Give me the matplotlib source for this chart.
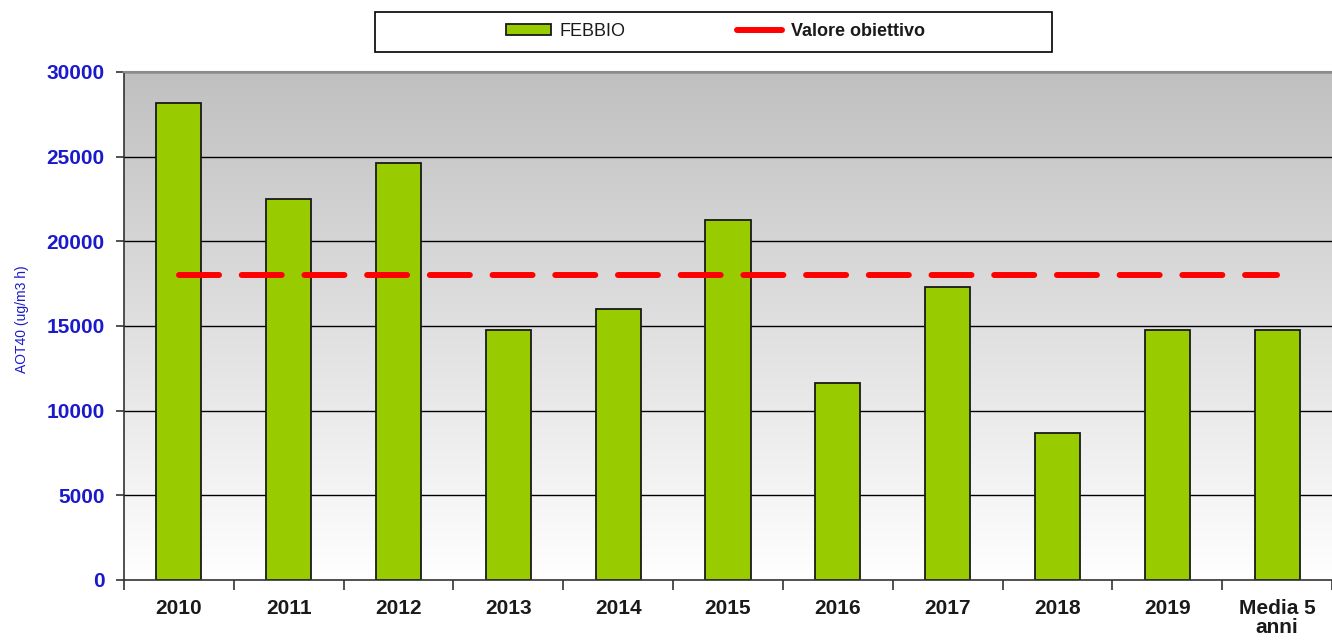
import numpy as np
import matplotlib
matplotlib.use("Agg")
import matplotlib.pyplot as plt
from matplotlib.colors import LinearSegmentedColormap
from matplotlib.patches import Rectangle

plt.rcParams['font.family'] = ['Liberation Sans', 'DejaVu Sans']

# -------------------------------
# DATA
# -------------------------------
categories = ["2010", "2011", "2012", "2013", "2014", "2015", "2016",
              "2017", "2018", "2019", "Media 5\nanni"]
febbio = [28150, 22500, 24600, 14750, 16000, 21250, 11650, 17300, 8700, 14750, 14750]
valore_obiettivo = [18000] * len(categories)
y_ticks = [0, 5000, 10000, 15000, 20000, 25000, 30000]

# -------------------------------
# FIGURE
# -------------------------------
fig = plt.figure(figsize=(13.32, 6.42), dpi=100)
ax = fig.add_axes([0.0931, 0.0966, 0.9069, 0.7913])

x = np.arange(len(categories))
ax.set_xlim(-0.5, len(categories) - 0.5)
ax.set_ylim(0, 30000)

# gradient background (gray on top, white at the bottom)
cmap = LinearSegmentedColormap.from_list("bg", ["#ffffff", "#c0c0c0"])
grad = np.linspace(0, 1, 256).reshape(-1, 1)
ax.imshow(grad, extent=[-0.5, len(categories) - 0.5, 0, 30000], origin="lower",
          aspect="auto", cmap=cmap, zorder=0)

# gridlines
for yv in y_ticks[1:]:
    ax.axhline(yv, color="black", lw=1.0, zorder=1)

bars = ax.bar(x, febbio, width=0.41, color="#99cc00", edgecolor="#1a1a1a",
              linewidth=1.3, zorder=2, label="FEBBIO")

line, = ax.plot(x, valore_obiettivo, color="#ff0000", lw=4.3,
                dashes=(6.7, 3.8), dash_capstyle="round", zorder=3,
                label="Valore obiettivo")

# axes styling
ax.spines["right"].set_visible(False)
ax.spines["top"].set_color("#8c8c8c")
ax.spines["top"].set_linewidth(1.5)
ax.spines["left"].set_color("#333333")
ax.spines["left"].set_linewidth(1.2)
ax.spines["bottom"].set_color("#333333")
ax.spines["bottom"].set_linewidth(1.2)

ax.set_yticks(y_ticks)
ax.set_yticklabels([str(v) for v in y_ticks],
                   color="#1a1acc", fontweight="bold", fontsize=15)
ax.tick_params(axis="y", length=6, width=1.2, color="#333333", pad=8)

ax.set_xticks(x)
ax.set_xticklabels(categories, fontweight="bold", fontsize=15,
                   color="#1a1a1a", linespacing=0.95, va="top")
ax.tick_params(axis="x", length=0, pad=14)
ax.set_xticks(np.arange(-0.5, len(categories), 1.0), minor=True)
ax.tick_params(axis="x", which="minor", length=7, width=1.2, color="#333333")

ax.set_ylabel("AOT40 (ug/m3 h)", color="#1a1acc", fontsize=10)
ax.yaxis.set_label_coords(-0.079, 0.513)

# legend box on top
frame = Rectangle((0.2815, 0.919), 0.5083, 0.0623, transform=fig.transFigure,
                  facecolor="white", edgecolor="black", lw=1.2)
fig.patches.append(frame)
leg = fig.legend(handles=[bars, line], loc="center",
                 bbox_to_anchor=(0.537, 0.951), ncol=2, frameon=False,
                 handlelength=2.5, handleheight=0.55, handletextpad=0.45,
                 columnspacing=6.2, fontsize=13)
for t in leg.get_texts():
    t.set_color("#1a1a1a")
leg.get_texts()[1].set_fontweight("bold")
leg.legend_handles[1].set_dashes([])
leg.legend_handles[1].set_solid_capstyle("round")

fig.savefig("out.png", dpi=100)
